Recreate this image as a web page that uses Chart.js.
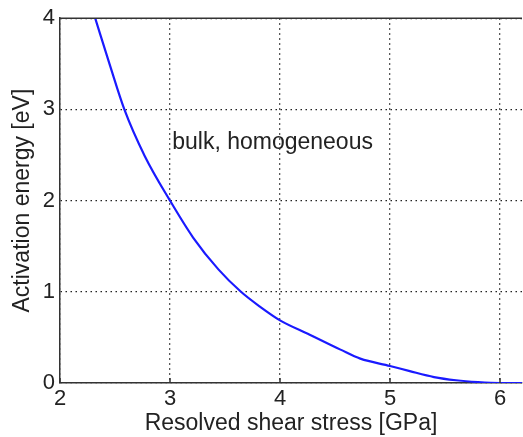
<!DOCTYPE html>
<html>
<head>
<meta charset="utf-8">
<script src="https://cdn.jsdelivr.net/npm/chart.js@4/dist/chart.umd.min.js"></script>
<style>
  html, body { margin: 0; padding: 0; background: #fff; }
  #wrap { width: 523px; height: 437px; }
</style>
</head>
<body>
<div id="wrap"><canvas id="main_chart"></canvas></div>
<script>
// values
const stress = [2.32, 2.455, 2.585, 2.77, 3.0, 3.21, 3.44, 3.645, 3.82, 4.0, 4.27, 4.55, 4.73, 5.0, 5.18, 5.4, 5.6, 5.8, 6.0, 6.2];
const energy = [4.0, 3.48, 3.0, 2.49, 2.0, 1.595, 1.246, 1.0, 0.835, 0.687, 0.53, 0.366, 0.267, 0.187, 0.13, 0.065, 0.03, 0.01, 0.0, 0.0];
const xTicks = [2, 3, 4, 5, 6];
const yTicks = [0, 1, 2, 3, 4];
const noteText = 'bulk, homogeneous';
const notePos = [3.02, 2.64];

const FONT = 'Liberation Sans, Arial, sans-serif';
const textColor = '#222';

// top frame line, inward ticks and the text label inside the plot
const framePlugin = {
  id: 'frame',
  afterDraw(chart) {
    const {ctx, chartArea, scales} = chart;
    ctx.save();
    ctx.strokeStyle = '#333';
    ctx.lineWidth = 1.5;
    ctx.beginPath();
    ctx.moveTo(chartArea.left, chartArea.top);
    ctx.lineTo(chartArea.right, chartArea.top);
    ctx.stroke();
    xTicks.forEach(v => {
      const px = scales.x.getPixelForValue(v);
      ctx.beginPath();
      ctx.moveTo(px, chartArea.bottom);
      ctx.lineTo(px, chartArea.bottom - 5);
      ctx.stroke();
    });
    ctx.fillStyle = textColor;
    ctx.font = '23px ' + FONT;
    ctx.textBaseline = 'middle';
    ctx.textAlign = 'left';
    ctx.fillText(noteText, scales.x.getPixelForValue(notePos[0]), scales.y.getPixelForValue(notePos[1]));
    ctx.restore();
  }
};

const points = stress.map((x, i) => ({x: x, y: energy[i]}));

new Chart(document.getElementById('main_chart'), {
  type: 'scatter',
  data: {
    datasets: [{
      data: points,
      showLine: true,
      borderColor: '#1a1aff',
      borderWidth: 2.2,
      pointRadius: 0,
      cubicInterpolationMode: 'monotone',
      fill: false
    }]
  },
  options: {
    responsive: true,
    maintainAspectRatio: false,
    animation: false,
    layout: { padding: { top: 18, right: 1, left: 0, bottom: 0 } },
    plugins: { legend: { display: false }, tooltip: { enabled: false } },
    scales: {
      x: {
        type: 'linear',
        min: 2,
        max: 6.2,
        afterFit(scale) { scale.height = 54; },
        afterBuildTicks(scale) { scale.ticks = xTicks.map(v => ({value: v})); },
        ticks: { color: textColor, font: { size: 22, family: FONT }, padding: 3 },
        grid: { color: '#222', lineWidth: 1.3, drawTicks: false },
        border: { display: true, color: '#333', width: 1.5, dash: [1.5, 3.5] },
        title: { display: true, text: 'Resolved shear stress [GPa]', color: textColor,
                 font: { size: 23, family: FONT }, padding: { top: 0, bottom: 0 } }
      },
      y: {
        min: 0,
        max: 4,
        afterFit(scale) { scale.width = 60; },
        afterBuildTicks(scale) { scale.ticks = yTicks.map(v => ({value: v})); },
        ticks: { color: textColor, font: { size: 22, family: FONT }, padding: 5 },
        grid: { color: '#222', lineWidth: 1.3, drawTicks: false },
        border: { display: true, color: '#333', width: 1.5, dash: [1.5, 3.5] },
        title: { display: true, text: 'Activation energy [eV]', color: textColor,
                 font: { size: 23, family: FONT }, padding: { top: 9, bottom: 0 } }
      }
    }
  },
  plugins: [framePlugin]
});
</script>
</body>
</html>
